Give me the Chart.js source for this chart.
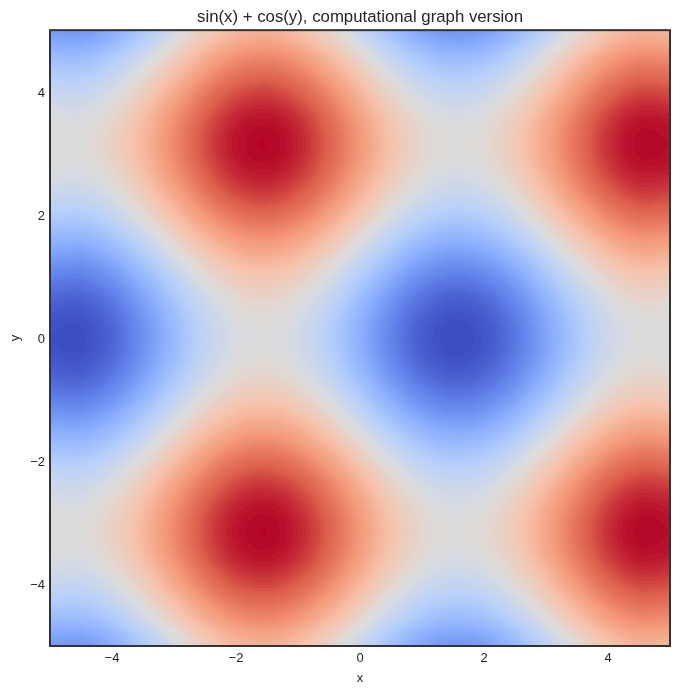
<!DOCTYPE html>
<html>
<head>
<meta charset="utf-8">
<title>sin(x) + cos(y)</title>
<script src="https://cdn.jsdelivr.net/npm/chart.js@4"></script>
<style>
  body { margin: 0; background: #fff; }
  canvas { display: block; }
</style>
</head>
<body>
<canvas id="chart" width="680" height="694"></canvas>
<script>
const xValues = [-5, -4.5, -4, -3.5, -3, -2.5, -2, -1.5, -1, -0.5, 0, 0.5, 1, 1.5, 2, 2.5, 3, 3.5, 4, 4.5, 5];
const yValues = [5, 4.5, 4, 3.5, 3, 2.5, 2, 1.5, 1, 0.5, 0, -0.5, -1, -1.5, -2, -2.5, -3, -3.5, -4, -4.5, -5];
const tickValues = [-4, -2, 0, 2, 4];

// one row per y, top of the plot first
const zRows = [
  [1.24, 1.26, 1.04, .63, .14, -.32, -.63, -.72, -.56, -.20, .28, .76, 1.12, 1.28, 1.19, .88, .42, -.07, -.48, -.70, -.68],
  [.75, .77, .55, .14, -.35, -.81, -1.12, -1.21, -1.05, -.69, -.21, .27, .63, .79, .70, .39, -.07, -.56, -.97, -1.19, -1.17],
  [.31, .33, .11, -.30, -.79, -1.25, -1.56, -1.65, -1.49, -1.13, -.65, -.17, .19, .35, .26, -.05, -.51, -1.00, -1.41, -1.63, -1.61],
  [.02, .04, -.18, -.59, -1.08, -1.54, -1.85, -1.94, -1.78, -1.42, -.94, -.46, -.10, .06, -.03, -.34, -.80, -1.29, -1.70, -1.92, -1.90],
  [-.03, -.01, -.23, -.64, -1.13, -1.59, -1.90, -1.99, -1.83, -1.47, -.99, -.51, -.15, .01, -.08, -.39, -.85, -1.34, -1.75, -1.97, -1.95],
  [.16, .18, -.04, -.45, -.94, -1.40, -1.71, -1.80, -1.64, -1.28, -.80, -.32, .04, .20, .11, -.20, -.66, -1.15, -1.56, -1.78, -1.76],
  [.54, .56, .34, -.07, -.56, -1.02, -1.33, -1.42, -1.26, -.90, -.42, .06, .42, .58, .49, .18, -.28, -.77, -1.18, -1.40, -1.38],
  [1.03, 1.05, .83, .42, -.07, -.53, -.84, -.93, -.77, -.41, .07, .55, .91, 1.07, .98, .67, .21, -.28, -.69, -.91, -.89],
  [1.50, 1.52, 1.30, .89, .40, -.06, -.37, -.46, -.30, .06, .54, 1.02, 1.38, 1.54, 1.45, 1.14, .68, .19, -.22, -.44, -.42],
  [1.84, 1.86, 1.64, 1.23, .74, .28, -.03, -.12, .04, .40, .88, 1.36, 1.72, 1.88, 1.79, 1.48, 1.02, .53, .12, -.10, -.08],
  [1.96, 1.98, 1.76, 1.35, .86, .40, .09, 0, .16, .52, 1, 1.48, 1.84, 2.00, 1.91, 1.60, 1.14, .65, .24, .02, .04],
  [1.84, 1.86, 1.64, 1.23, .74, .28, -.03, -.12, .04, .40, .88, 1.36, 1.72, 1.88, 1.79, 1.48, 1.02, .53, .12, -.10, -.08],
  [1.50, 1.52, 1.30, .89, .40, -.06, -.37, -.46, -.30, .06, .54, 1.02, 1.38, 1.54, 1.45, 1.14, .68, .19, -.22, -.44, -.42],
  [1.03, 1.05, .83, .42, -.07, -.53, -.84, -.93, -.77, -.41, .07, .55, .91, 1.07, .98, .67, .21, -.28, -.69, -.91, -.89],
  [.54, .56, .34, -.07, -.56, -1.02, -1.33, -1.42, -1.26, -.90, -.42, .06, .42, .58, .49, .18, -.28, -.77, -1.18, -1.40, -1.38],
  [.16, .18, -.04, -.45, -.94, -1.40, -1.71, -1.80, -1.64, -1.28, -.80, -.32, .04, .20, .11, -.20, -.66, -1.15, -1.56, -1.78, -1.76],
  [-.03, -.01, -.23, -.64, -1.13, -1.59, -1.90, -1.99, -1.83, -1.47, -.99, -.51, -.15, .01, -.08, -.39, -.85, -1.34, -1.75, -1.97, -1.95],
  [.02, .04, -.18, -.59, -1.08, -1.54, -1.85, -1.94, -1.78, -1.42, -.94, -.46, -.10, .06, -.03, -.34, -.80, -1.29, -1.70, -1.92, -1.90],
  [.31, .33, .11, -.30, -.79, -1.25, -1.56, -1.65, -1.49, -1.13, -.65, -.17, .19, .35, .26, -.05, -.51, -1.00, -1.41, -1.63, -1.61],
  [.75, .77, .55, .14, -.35, -.81, -1.12, -1.21, -1.05, -.69, -.21, .27, .63, .79, .70, .39, -.07, -.56, -.97, -1.19, -1.17],
  [1.24, 1.26, 1.04, .63, .14, -.32, -.63, -.72, -.56, -.20, .28, .76, 1.12, 1.28, 1.19, .88, .42, -.07, -.48, -.70, -.68]
];

// reversed coolwarm, low z (red) to high z (blue)
const ramp = [
  [180, 4, 38], [221, 96, 76], [244, 153, 122], [245, 196, 173], [221, 221, 221],
  [184, 208, 249], [141, 176, 254], [98, 130, 234], [59, 76, 192]
];
const zMin = -2;
const zMax = 2;
const levelStep = 0.04;

function rampColor(z) {
  // filled contours: every value in a band takes the band's colour
  let band = (Math.floor((z - zMin) / levelStep) + 0.5) * levelStep;
  let t = Math.min(Math.max(band / (zMax - zMin), 0), 1) * (ramp.length - 1);
  let i = Math.min(Math.floor(t), ramp.length - 2);
  let f = t - i;
  return [0, 1, 2].map(k => ramp[i][k] + (ramp[i + 1][k] - ramp[i][k]) * f);
}

function cubic(a, b, c, d, t) {
  return b + 0.5 * t * (c - a + t * (2 * a - 5 * b + 4 * c - d + t * (3 * (b - c) + d - a)));
}

function zAt(col, row) {
  let c = Math.min(Math.floor(col), xValues.length - 2);
  let r = Math.min(Math.floor(row), yValues.length - 2);
  let tc = col - c;
  let tr = row - r;
  let vals = [];
  for (let j = r - 1; j <= r + 2; ++j) {
    let line = zRows[Math.min(Math.max(j, 0), zRows.length - 1)];
    let get = i => line[Math.min(Math.max(i, 0), line.length - 1)];
    vals.push(cubic(get(c - 1), get(c), get(c + 1), get(c + 2), tc));
  }
  return cubic(vals[0], vals[1], vals[2], vals[3], tr);
}

const heatPlugin = {
  id: 'heat',
  beforeDatasetsDraw(chart) {
    let area = chart.chartArea;
    let sx = chart.scales.x;
    let sy = chart.scales.y;
    let w = Math.round(area.right - area.left);
    let h = Math.round(area.bottom - area.top);
    let img = chart.ctx.createImageData(w, h);
    let xStep = xValues[1] - xValues[0];
    let yStep = yValues[1] - yValues[0];
    for (let py = 0; py < h; ++py) {
      let row = (sy.getValueForPixel(area.top + py + 0.5) - yValues[0]) / yStep;
      for (let px = 0; px < w; ++px) {
        let col = (sx.getValueForPixel(area.left + px + 0.5) - xValues[0]) / xStep;
        let rgb = rampColor(zAt(col, row));
        let o = (py * w + px) * 4;
        img.data[o] = rgb[0];
        img.data[o + 1] = rgb[1];
        img.data[o + 2] = rgb[2];
        img.data[o + 3] = 255;
      }
    }
    chart.ctx.putImageData(img, Math.round(area.left), Math.round(area.top));
  },
  afterDatasetsDraw(chart) {
    let area = chart.chartArea;
    let ctx = chart.ctx;
    ctx.save();
    ctx.strokeStyle = '#333333';
    ctx.lineWidth = 2;
    ctx.strokeRect(area.left, area.top, area.right - area.left, area.bottom - area.top);
    ctx.restore();
  }
};

let points = [];
for (let r = 0; r < yValues.length; ++r) {
  for (let c = 0; c < xValues.length; ++c) {
    points.push({ x: xValues[c], y: yValues[r], z: zRows[r][c] });
  }
}

const FONT = '"Liberation Sans", Arial, sans-serif';
const INK = '#262626';

function axisOptions(label, titlePad, labelOffset, fixSize) {
  return {
    type: 'linear',
    min: -5,
    max: 5,
    afterBuildTicks(axis) {
      axis.ticks = tickValues.map(v => ({ value: v }));
    },
    afterFit: fixSize,
    grid: { display: false, drawTicks: false },
    border: { display: false },
    title: { display: true, text: label, color: INK, font: { family: FONT, size: 13 }, padding: { top: titlePad, bottom: 0 } },
    ticks: {
      color: INK,
      font: { family: FONT, size: 13 },
      padding: 5,
      labelOffset: labelOffset,
      maxRotation: 0,
      callback: v => String(v).replace('-', '\u2212')
    }
  };
}

new Chart(document.getElementById('chart'), {
  type: 'scatter',
  data: { datasets: [{ data: points, pointRadius: 0, pointHoverRadius: 0 }] },
  options: {
    responsive: false,
    animation: false,
    devicePixelRatio: 1,
    layout: { padding: { right: 10, bottom: 8 } },
    plugins: {
      legend: { display: false },
      tooltip: { enabled: false },
      title: {
        display: true,
        fullSize: false,
        text: 'sin(x) + cos(y), computational graph version',
        color: INK,
        font: { family: FONT, size: 16.8, weight: 'normal' },
        padding: { top: 7, bottom: 3 }
      }
    },
    scales: {
      x: axisOptions('x', 0, 0, axis => { axis.height = 40; }),
      y: axisOptions('y', 8, 1.5, axis => { axis.width = 50; })
    }
  },
  plugins: [heatPlugin]
});
</script>
</body>
</html>
